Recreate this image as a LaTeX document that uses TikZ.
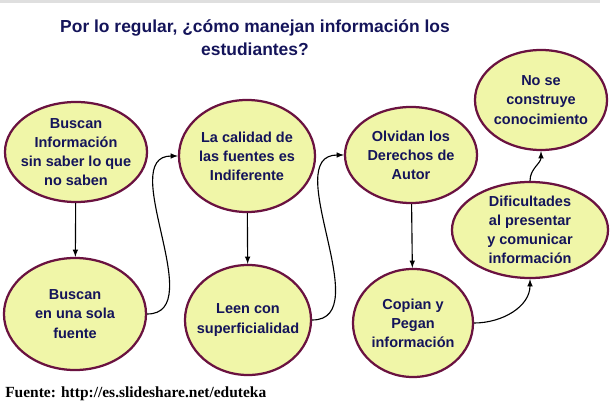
\documentclass[tikz,border=0pt]{standalone}
\usepackage{fontspec}
\setmainfont{Liberation Sans}
\newfontfamily\footfont{Liberation Serif}
\usepackage{tikz}
\usetikzlibrary{shapes}
\usetikzlibrary{arrows}

\definecolor{ideafill}{HTML}{F0F6A8}
\definecolor{ideadraw}{HTML}{6A1240}
\definecolor{ideatext}{HTML}{14145A}

\begin{document}
\begin{tikzpicture}[
    x=0.025cm,
    y=-0.025cm,
    >=latex,
    every node/.style={font=\fontsize{10.3}{13.6}\selectfont\bfseries},
    idea/.style={
        ellipse,
        draw=ideadraw,
        line width=1.6pt,
        fill=ideafill,
        text=ideatext,
        inner sep=-6pt,
        align=center
    },
    arrow/.style={->, line width=0.8pt}
]
\useasboundingbox (0,0) rectangle (610,406);
\fill[gray!25] (0,0) rectangle (600,3);

% Title
\node[text=ideatext, align=center, font=\fontsize{12.4}{16.5}\selectfont\bfseries] (title) at (255,38)
    {Por lo regular, ¿cómo manejan información los\\estudiantes?};

% Ideas
\node[idea, minimum width=3.55cm, minimum height=2.5cm] (buscan) at (76,152)
    {Buscan\\Información\\sin saber lo que\\no saben};
\node[idea, minimum width=3.55cm, minimum height=2.8cm] (fuente) at (75,314)
    {Buscan\\en una sola\\fuente};
\node[idea, minimum width=3.4cm, minimum height=2.8cm] (calidad) at (247,156)
    {La calidad de\\las fuentes es\\Indiferente};
\node[idea, minimum width=3.15cm, minimum height=2.75cm] (leen) at (248,320)
    {Leen con\\superficialidad};
\node[idea, minimum width=3.3cm, minimum height=2.4cm] (olvidan) at (411,155)
    {Olvidan los\\Derechos de\\Autor};
\node[idea, minimum width=3.0cm, minimum height=2.7cm] (copian) at (413,323)
    {Copian y\\Pegan\\información};
\node[idea, minimum width=3.9cm, minimum height=2.4cm] (dificultades) at (530,230)
    {Dificultades\\al presentar\\y comunicar\\información};
\node[idea, minimum width=3.3cm, minimum height=2.5cm] (conocimiento) at (541,100)
    {No se\\construye\\conocimiento};

% Source
\node[anchor=base west, inner sep=0pt, font=\footfont\fontsize{11}{12}\selectfont\bfseries] (fuenteurl) at (5,397)
    {Fuente: http://es.slideshare.net/eduteka};

% Arrows
\draw[arrow] (buscan) -- (fuente);
\draw[arrow] (fuente.east) to[out=0, in=180] (calidad.west);
\draw[arrow] (calidad) -- (leen);
\draw[arrow] (leen.east) to[out=0, in=180] (olvidan.west);
\draw[arrow] (olvidan) -- (copian);
\draw[arrow] (copian.east) to[out=0, in=-90] (dificultades.south);
\draw[arrow] (dificultades.north) to[out=90, in=-90] (conocimiento.south);

\end{tikzpicture}
\end{document}
